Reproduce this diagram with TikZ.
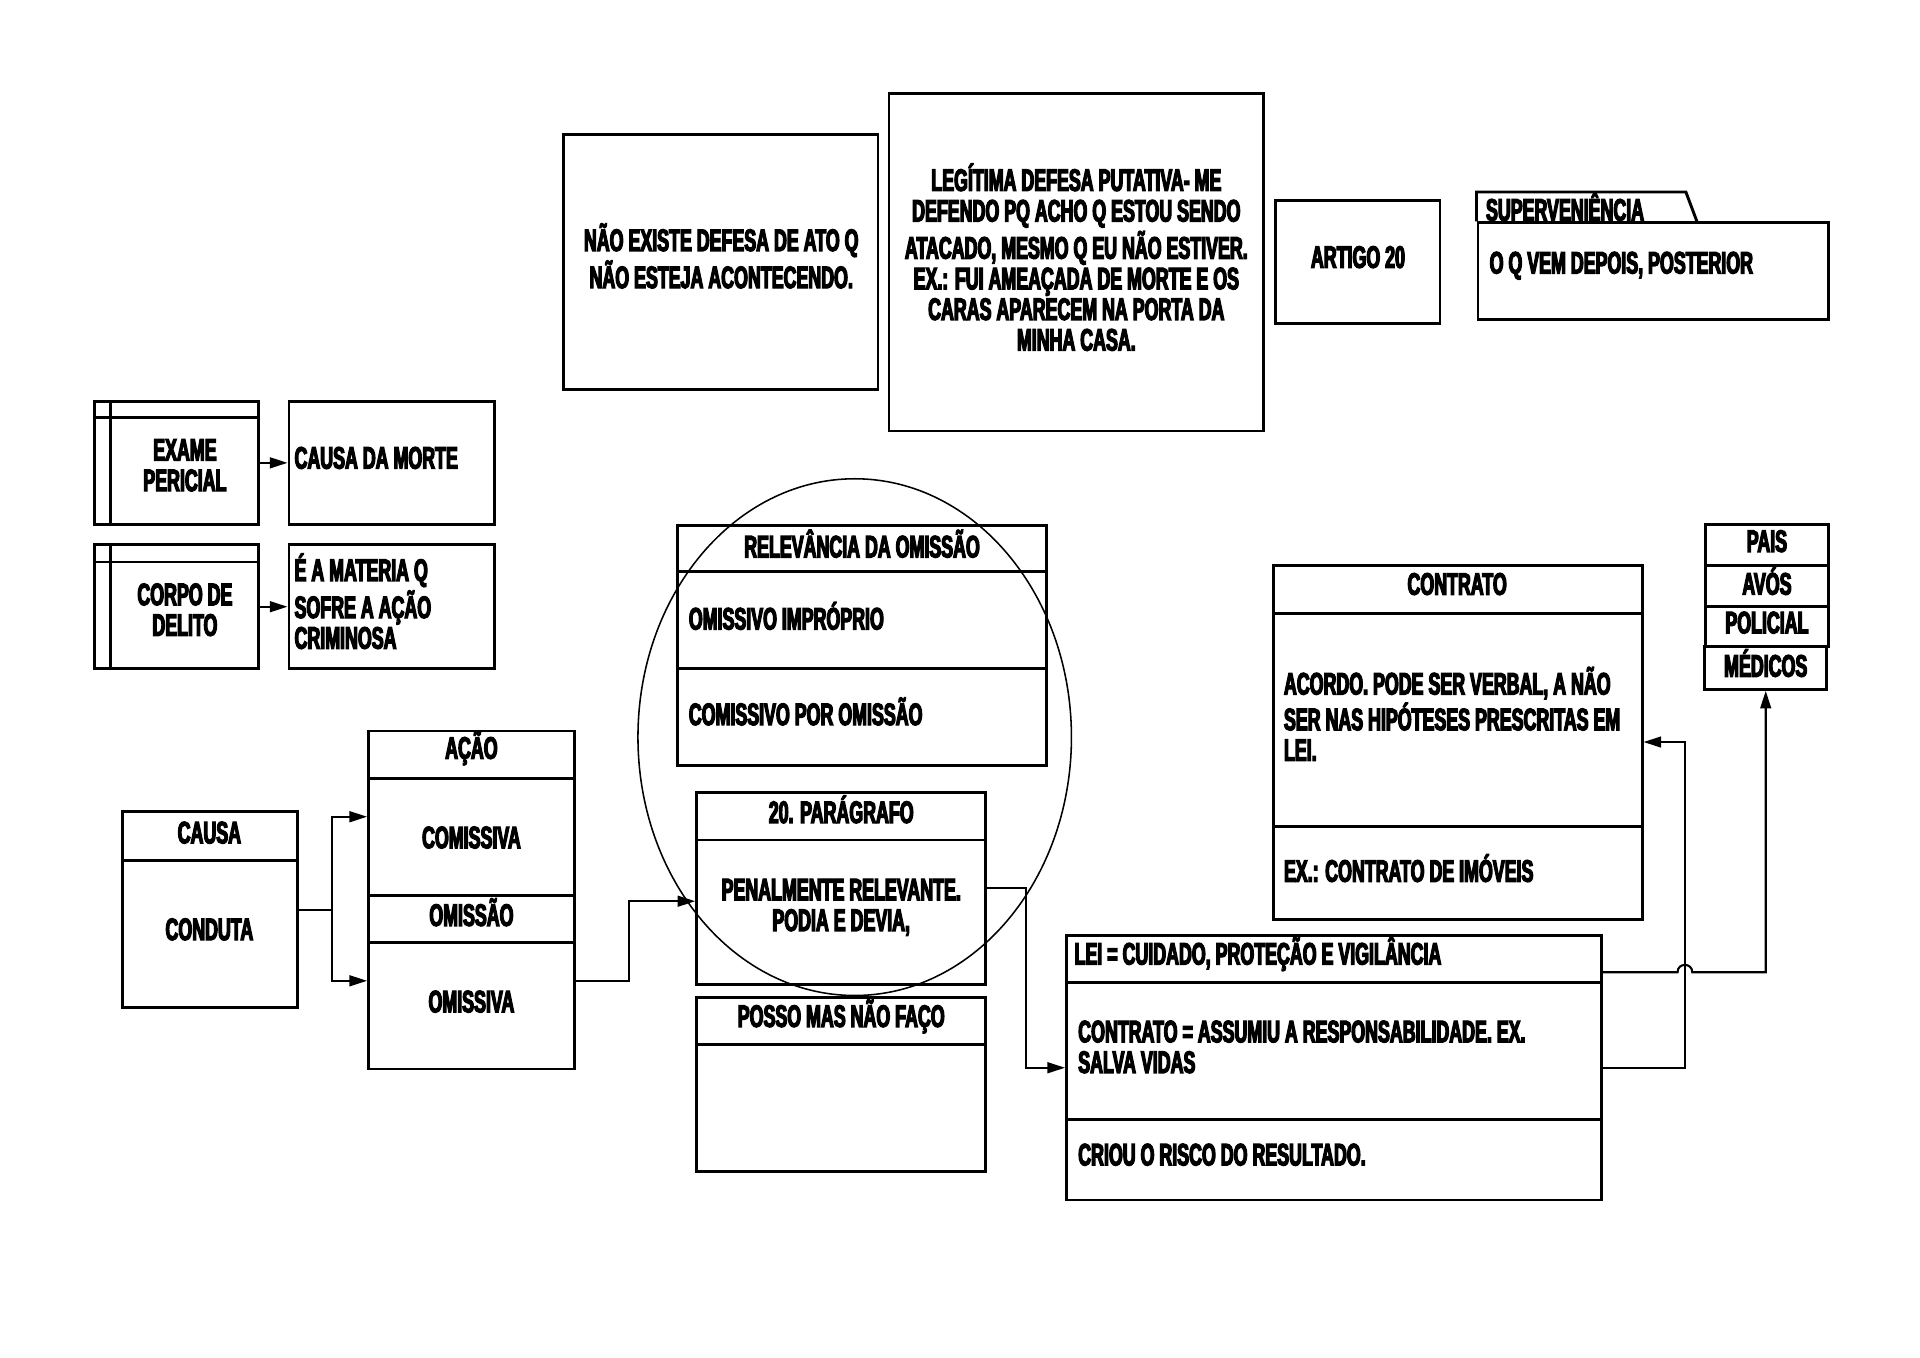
\documentclass[tikz,border=0pt]{standalone}
\usepackage{fontspec}
\setmainfont{Liberation Sans}[FakeStretch=0.575, FakeBold=4]
\usetikzlibrary{arrows.meta,shapes.geometric,fit,calc}
\begin{document}
\begin{tikzpicture}[x=0.125mm,y=-0.125mm,
  every node/.style={font=\bfseries\fontsize{9}{8.9}\selectfont, inner sep=0pt},
  box/.style={draw, line width=0.85pt},
  divl/.style={line width=0.85pt},
  conn/.style={draw, line width=0.6pt},
  arr/.style={draw, line width=0.6pt, -{Triangle[length=1.8mm,width=1.1mm]}},
  ctr/.style={align=center, anchor=center},
  lft/.style={align=left, anchor=west}]
\fill[white] (0,0) rectangle (1568,1109);
\useasboundingbox (0,0) rectangle (1568,1109);

% helper y-levels
\coordinate (y667) at (0,667);
\coordinate (y801) at (0,801);
\coordinate (y736) at (0,736);
\coordinate (y725) at (0,725);
\coordinate (y872) at (0,872);
\coordinate (y794) at (0,794);
\coordinate (y606) at (0,606);

% ---------- top row ----------
\node[box, fit={(460,110)(717,318)}] (nao) {};
\node[ctr] (tnao) at (589,209) {NÃO EXISTE DEFESA DE ATO Q\\NÃO ESTEJA ACONTECENDO.};

\node[box, fit={(726,76)(1032,352)}] (leg) {};
\node[ctr] (tleg) at (879,210) {LEGÍTIMA DEFESA PUTATIVA- ME\\DEFENDO PQ ACHO Q ESTOU SENDO\\ATACADO, MESMO Q EU NÃO ESTIVER.\\EX.: FUI AMEAÇADA DE MORTE E OS\\CARAS APARECEM NA PORTA DA\\MINHA CASA.};

\node[box, fit={(1042,164)(1176,264)}] (art) {};
\node[ctr] (tart) at (1109,210) {ARTIGO 20};

\node[box, fit={(1207,182)(1493,261)}] (sup) {};
\draw[divl] (sup.north west) -- ++(0,-24) -- ++(171,0) -- ++(9,24);
\node[lft] (tsup) at (1213,169) {SUPERVENIÊNCIA};
\node[lft] (tsupb) at (1216,217) {O Q VEM DEPOIS, POSTERIOR};

% ---------- left small boxes ----------
\node[box, fit={(77,328)(211,428)}] (exame) {};
\draw[divl] (77,341) -- (211,341);
\draw[divl] (90,328) -- (90,428);
\node[ctr] (texame) at (151,380) {EXAME\\PERICIAL};

\node[box, fit={(236,328)(404,428)}] (morte) {};
\node[lft] (tmorte) at (240,374) {CAUSA DA MORTE};

\node[box, fit={(77,445)(211,546)}] (corpo) {};
\draw[divl] (77,459) -- (211,459);
\draw[divl] (90,445) -- (90,546);
\node[ctr] (tcorpo) at (151,498) {CORPO DE\\DELITO};

\node[box, fit={(236,445)(404,546)}] (materia) {};
\node[lft] (tmateria) at (240,491) {É A MATERIA Q\\SOFRE A AÇÃO\\CRIMINOSA};

\draw[arr] (exame.east) -- (morte.west);
\draw[arr] (corpo.east) -- (materia.west);

% ---------- causa / acao ----------
\node[box, fit={(100,663)(243,823)}] (causa) {};
\draw[divl] (100,703) -- (243,703);
\node[ctr] (tcausa) at (171,680) {CAUSA};
\node[ctr] (tconduta) at (171,759) {CONDUTA};

\node[box, fit={(301,597)(469,873)}] (acao) {};
\draw[divl] (301,636) -- (469,636);
\draw[divl] (301,731) -- (469,731);
\draw[divl] (301,770) -- (469,770);
\node[ctr] (tacao) at (385,611) {AÇÃO};
\node[ctr] (tcomissiva) at (385,684) {COMISSIVA};
\node[ctr] (tomissao) at (385,745) {OMISSÃO};
\node[ctr] (tomissiva) at (385,818) {OMISSIVA};

\coordinate (j1) at (271,743);
\draw[conn] (causa.east) -- (j1);
\draw[arr] (j1) |- (acao.west |- y667);
\draw[arr] (j1) |- (acao.west |- y801);

% ---------- middle ----------
\node[box, fit={(553,429)(855,625)}] (rel) {};
\draw[divl] (553,467) -- (855,467);
\draw[divl] (553,546) -- (855,546);
\node[ctr] (trel) at (704,444) {RELEVÂNCIA DA OMISSÃO};
\node[lft] (timp) at (562,503) {OMISSIVO IMPRÓPRIO};
\node[lft] (tcom) at (562,581) {COMISSIVO POR OMISSÃO};

\node[box, fit={(569,647)(805,804)}] (par) {};
\draw[divl] (569,686) -- (805,686);
\node[ctr] (tpar) at (687,661) {20. PARÁGRAFO};
\node[ctr] (tpen) at (687,741) {PENALMENTE RELEVANTE.\\PODIA E DEVIA,};

\node[box, fit={(569,815)(805,957)}] (posso) {};
\draw[divl] (569,853) -- (805,853);
\node[ctr] (tposso) at (687,830) {POSSO MAS NÃO FAÇO};

\node[draw, ellipse, line width=0.45pt, minimum width=44.25mm, minimum height=52.75mm] (circ) at (698,602) {};

% ---------- right ----------
\node[box, fit={(871,764)(1308,980)}] (lei) {};
\draw[divl] (871,802) -- (1308,802);
\draw[divl] (871,914) -- (1308,914);
\node[lft] (tlei) at (877,779) {LEI = CUIDADO, PROTEÇÃO E VIGILÂNCIA};
\node[lft] (tassum) at (880,855) {CONTRATO = ASSUMIU A RESPONSABILIDADE. EX.\\SALVA VIDAS};
\node[lft] (tcriou) at (880,943) {CRIOU O RISCO DO RESULTADO.};

\node[box, fit={(1040,462)(1341,751)}] (contrato) {};
\draw[divl] (1040,501) -- (1341,501);
\draw[divl] (1040,675) -- (1341,675);
\node[ctr] (tcontrato) at (1190,477) {CONTRATO};
\node[lft] (tacordo) at (1048,583) {ACORDO. PODE SER VERBAL, A NÃO\\SER NAS HIPÓTESES PRESCRITAS EM\\LEI.};
\node[lft] (timoveis) at (1048,709) {EX.: CONTRATO DE IMÓVEIS};

\node[box, fit={(1393,428)(1493,462)}] (pais) {};
\node[box, fit={(1393,462)(1493,495)}] (avos) {};
\node[box, fit={(1393,495)(1493,528)}] (policial) {};
\node[box, fit={(1392,528)(1492,563)}] (medicos) {};
\node[ctr] at ($(pais)+(0,-3)$) {PAIS};
\node[ctr] at ($(avos)+(0,-4)$) {AVÓS};
\node[ctr] at ($(policial)+(0,-3)$) {POLICIAL};
\node[ctr] at ($(medicos)+(0,-4)$) {MÉDICOS};

% ---------- connectors ----------
\draw[arr] (acao.east |- y801) -- (514,801) |- (par.west |- y736);
\draw[arr] (par.east |- y725) -- (838,725) |- (lei.west |- y872);
\draw[arr] (lei.east |- y872) -- (1376,872) |- (contrato.east |- y606);
\draw[arr] (lei.east |- y794) -- (1370,794) .. controls (1370,786) and (1382,786) .. (1382,794) -- (1442,794) -- (medicos.south);
\end{tikzpicture}
\end{document}
